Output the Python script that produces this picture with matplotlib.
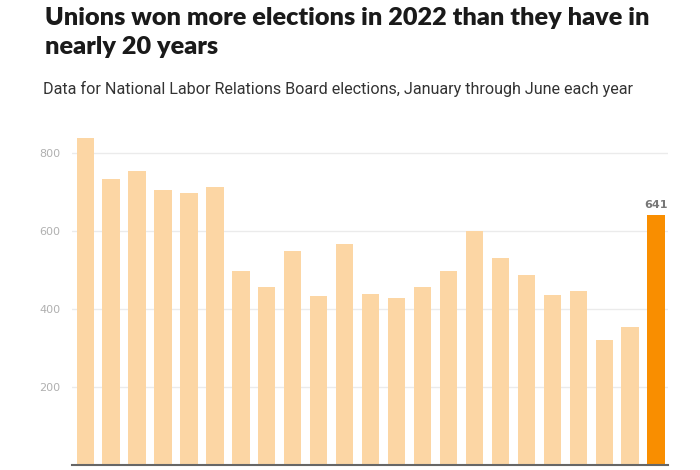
import matplotlib.pyplot as plt
import numpy as np

# NLRB elections won by unions, Jan-Jun each year
years = list(range(2000, 2023))
wins = [838, 733, 755, 704, 697, 712, 497, 456, 550, 434, 567,
        439, 429, 456, 497, 600, 530, 488, 435, 446, 321, 353, 641]
yticks = [200, 400, 600, 800]

title = "Unions won more elections in 2022 than they have in\nnearly 20 years"
subtitle = "Data for National Labor Relations Board elections, January through June each year"

light = "#fcd6a4"
dark = "#f98e00"
colors = [light] * (len(wins) - 1) + [dark]

fig = plt.figure(figsize=(7, 4.7), dpi=100)
ax = fig.add_axes([0.1024, 0.0106, 0.8523, 0.7128])

x = np.arange(len(years))
ax.bar(x, wins, width=0.667, color=colors, zorder=2)

# label on the last bar only
ax.text(x[-1], wins[-1] + 12, str(wins[-1]), ha="center", va="bottom",
        fontsize=8, fontweight="bold", color="#777777")

ax.set_xlim(-0.52, len(years) - 0.53)
ax.set_ylim(0, 859)
ax.set_yticks(yticks)
ax.set_yticklabels([str(t) for t in yticks], color="#b0b0b0", fontsize=8)
ax.set_xticks([])
ax.tick_params(axis="y", length=0, pad=8)
ax.grid(axis="y", color="#ebebeb", linewidth=1, zorder=0)
for s in ["top", "right", "left"]:
    ax.spines[s].set_visible(False)
ax.spines["bottom"].set_color("#666666")
ax.spines["bottom"].set_linewidth(1.5)
ax.spines["bottom"].set_zorder(3)

fig.text(45 / 700, 1 - 7 / 470, title, ha="left", va="top",
         fontsize=18.2, fontweight="heavy", color="#1a1a1a",
         family=["Lato", "DejaVu Sans"], linespacing=1.38)
fig.text(43 / 700, 1 - 81 / 470, subtitle, ha="left", va="top",
         fontsize=11.6, color="#333333", family=["Roboto", "DejaVu Sans"])

fig.savefig("out.png", dpi=100)
